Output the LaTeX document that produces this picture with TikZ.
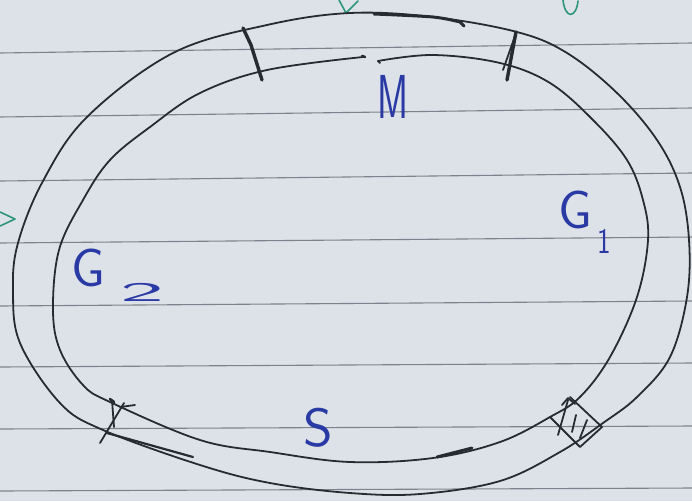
\documentclass[tikz,border=0pt]{standalone}
\usepackage{fontspec}
\definecolor{paper}{RGB}{221,226,233}
\definecolor{rule}{RGB}{125,130,140}
\definecolor{ink}{RGB}{40,42,50}
\definecolor{blueink}{RGB}{42,58,165}
\definecolor{greenink}{RGB}{45,150,120}
\tikzset{
  pen/.style={draw=ink, line width=1.8pt, line cap=round, line join=round},
  heavy/.style={draw=ink, line width=3.4pt, line cap=round, line join=round},
  ruled/.style={draw=rule, line width=1.1pt},
  green/.style={draw=greenink, line width=1.6pt, line cap=round, line join=round},
  lbl/.style={text=blueink, font=\sffamily\fontsize{54}{54}\selectfont, inner sep=0pt},
  sublbl/.style={text=blueink, font=\sffamily\fontsize{36}{36}\selectfont, inner sep=0pt}
}
\begin{document}
\begin{tikzpicture}[x=1pt,y=-1pt]
\useasboundingbox (0,0) rectangle (692,501);
\fill[paper] (0,0) rectangle (692,501);
% ruled lines of the paper
\foreach \l/\r in {53/43,117/108,181/173,243/237,306/301,367/363,429/426,491/488}
  \draw[ruled] (0,\l) -- (692,\r);
% green fragments
\draw[green] (339,0) -- (346,13) -- (358,1);
\draw[green] (563,0) .. controls (565,19) and (576,19) .. (578,1);
\draw[green] (0,212) -- (15,219) -- (0,226);
% outer ring
\draw[pen] plot[smooth cycle, tension=0.6] coordinates {(350,13) (433,17) (517,32) (567,53) (617,93) (657,140) (680,187) (689,240) (687,297) (670,357) (637,397) (603,423) (560,452) (500,481) (420,494) (350,493) (270,483) (200,465) (103,430) (60,403) (20,343) (13,290) (18,243) (43,181) (87,117) (173,53) (267,25)};
% inner ring (small gap near M)
\draw[pen] plot[smooth, tension=0.6] coordinates {(378,61) (433,55) (500,63) (550,83) (593,120) (627,160) (643,200) (648,240) (637,297) (610,357) (580,397) (550,417) (500,442) (433,458) (350,462) (270,452) (200,440) (110,402) (83,385) (60,350) (53,310) (59,250) (83,200) (110,160) (150,127) (200,93) (267,70) (363,57)};
\draw[pen] (378,61) -- (380,63);
\draw[pen, line width=2.6pt] (362,56) -- (365,57);
% thick stroke on outer top
\draw[draw=ink, line width=3pt, line cap=round] plot[smooth] coordinates {(374,14) (433,17) (460,22)} -- (464,26);
% ticks
\draw[heavy] (243,28) -- (251,45) -- (262,80);
\draw[heavy] (516,32) -- (507,80);
\draw[pen] (503,70) -- (515,36);
% bottom-left mark
\draw[heavy, line width=2.6pt] (110,399) -- (114,402);
\draw[pen] (112,400) -- (114,427);
\draw[pen] (124,403) -- (100,443);
\draw[pen] (120,407) -- (135,405);
\draw[pen, line width=2.2pt] (107,433) -- (193,457);
% bottom-right box with arrow
\draw[pen] (550,417) -- (580,447) -- (602,427) -- (570,397);
\draw[pen] (558,435) -- (568,400);
\draw[pen] (562,405) -- (568,398) -- (575,404);
\draw[pen] (572,432) -- (576,415);
\draw[pen] (580,438) -- (587,420);
% pen mark on inner bottom
\draw[heavy, line width=3pt] (437,457) -- (472,448);
% labels
\node[lbl, xscale=0.7, yscale=1.15] (m) at (393,97) {M};
\node[lbl] (g1) at (575,210) {G};
\node[sublbl, xscale=0.8] (one) at (604,241) {1};
\node[lbl] (g2) at (88,268) {G};
\node[sublbl, xscale=2.6, yscale=0.75] (two) at (142,292) {2};
\node[lbl, xscale=1.05] (s) at (318,428) {S};
\end{tikzpicture}
\end{document}
